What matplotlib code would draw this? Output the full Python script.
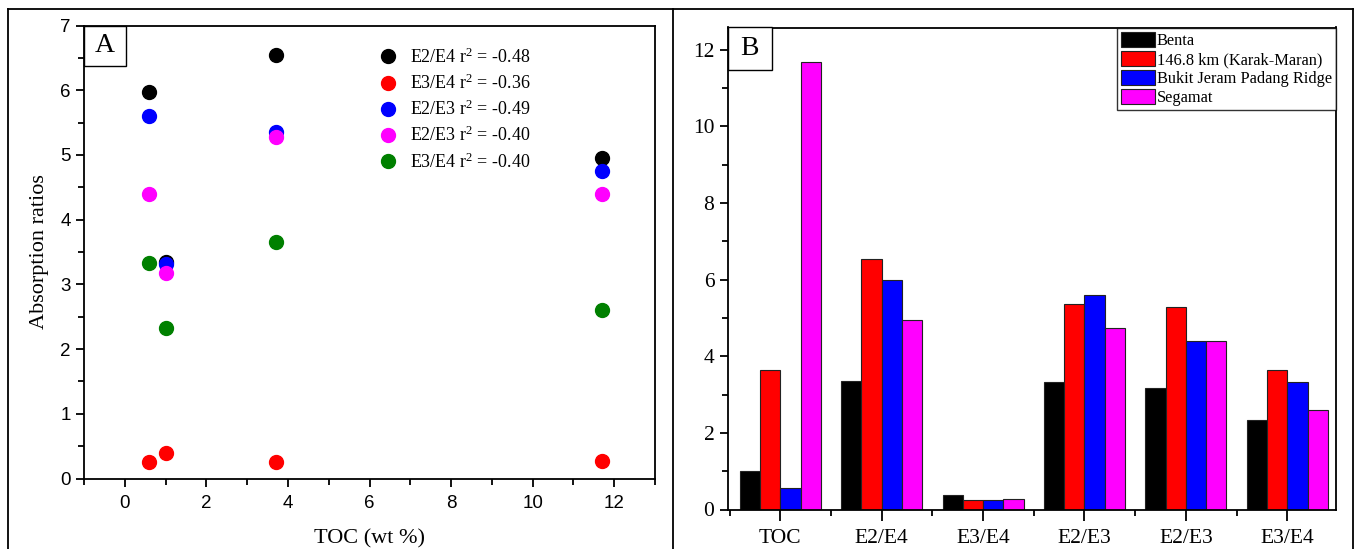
import matplotlib
matplotlib.use("Agg")
import matplotlib.pyplot as plt
import numpy as np
from matplotlib.lines import Line2D
from matplotlib.patches import Rectangle
from matplotlib.ticker import MultipleLocator, FixedLocator

# ---------------- data ----------------
locations = ["Benta", "146.8 km (Karak-Maran)", "Bukit Jeram Padang Ridge", "Segamat"]
categories = ["TOC", "E2/E4", "E3/E4", "E2/E3", "E2/E3", "E3/E4"]

benta = [1.00, 3.35, 0.39, 3.32, 3.18, 2.33]
karak = [3.65, 6.55, 0.26, 5.36, 5.28, 3.65]
bukit = [0.57, 5.98, 0.25, 5.60, 4.40, 3.33]
segamat = [11.67, 4.95, 0.27, 4.75, 4.40, 2.60]

bar_colors = ["#000000", "#ff0000", "#0000ff", "#ff00ff"]

# Panel A: TOC vs ratios (per location in same order as above)
toc_a = [1.00, 3.70, 0.60, 11.70]
e2e4_a = [3.35, 6.55, 5.98, 4.95]
e3e4_a = [0.39, 0.26, 0.25, 0.27]
e2e3_a = [3.32, 5.36, 5.60, 4.75]
e2e3b_a = [3.18, 5.28, 4.40, 4.40]
e3e4b_a = [2.33, 3.65, 3.33, 2.60]
series_a = [e2e4_a, e3e4_a, e2e3_a, e2e3b_a, e3e4b_a]
labels_a = [r"E2/E4 r$^{2}$ = -0.48", r"E3/E4 r$^{2}$ = -0.36", r"E2/E3 r$^{2}$ = -0.49",
            r"E2/E3 r$^{2}$ = -0.40", r"E3/E4 r$^{2}$ = -0.40"]
colors_a = ["#000000", "#ff0000", "#0000ff", "#ff00ff", "#008000"]

# ---------------- figure ----------------
W, H = 1357, 549
fig = plt.figure(figsize=(W / 100, H / 100), dpi=100)
plt.rcParams["mathtext.fontset"] = "custom"
plt.rcParams["mathtext.rm"] = "Liberation Serif"
plt.rcParams["mathtext.it"] = "Liberation Serif"

serif = "Liberation Serif"
sans = "Liberation Sans"

def fx(px):
    return px / W

def fy(py):
    return 1 - py / H

# outer frame lines
lw_frame = 1.3
for (x0, y0, x1, y1) in [(8, 9, 1353, 9), (8, 9, 8, 549), (673, 9, 673, 549), (1353, 9, 1353, 549)]:
    fig.add_artist(Line2D([fx(x0), fx(x1)], [fy(y0), fy(y1)], color="black", lw=lw_frame))


def panel_label(ax, txt, wpx, hpx):
    bb = ax.get_position()
    w = wpx / (bb.width * W)
    h = hpx / (bb.height * H)
    ax.add_patch(Rectangle((0, 1 - h), w, h, transform=ax.transAxes, fc="white",
                           ec="black", lw=1.0, zorder=5, clip_on=False))
    ax.text(w / 2, 1 - h / 2, txt, transform=ax.transAxes, ha="center", va="center",
            fontfamily=serif, fontsize=20, zorder=6)


# ---------------- Panel A ----------------
axA = fig.add_axes([fx(84), fy(478.5), fx(655) - fx(84), fy(25.5) - fy(478.5)])
for ys, lab, c in zip(series_a, labels_a, colors_a):
    axA.plot(toc_a, ys, linestyle="none", marker="o", ms=10, color=c, label=lab)
axA.set_xlim(-1, 13)
axA.set_ylim(0, 7)
axA.xaxis.set_major_locator(MultipleLocator(2))
axA.xaxis.set_minor_locator(MultipleLocator(1))
axA.yaxis.set_major_locator(MultipleLocator(1))
axA.yaxis.set_minor_locator(MultipleLocator(0.5))
axA.tick_params(which="both", direction="out", top=False, right=False, width=1.3)
axA.tick_params(which="major", length=6, labelsize=13.5)
axA.tick_params(axis="x", which="major", pad=6)
axA.tick_params(which="minor", length=4)
for t in axA.get_xticklabels() + axA.get_yticklabels():
    t.set_fontfamily(sans)
for s in axA.spines.values():
    s.set_linewidth(1.3)
axA.set_xlabel("TOC (wt %)", fontfamily=serif, fontsize=16, labelpad=12)
axA.set_ylabel("Absorption ratios", fontfamily=serif, fontsize=16, labelpad=8)
panel_label(axA, "A", 42, 40)
legA = axA.legend(loc="upper left", bbox_to_anchor=(0.488, 0.968), frameon=False,
                  prop={"family": serif, "size": 13}, handletextpad=0.2,
                  labelspacing=0.38, borderaxespad=0.0, numpoints=1)

# ---------------- Panel B ----------------
axB = fig.add_axes([fx(727.5), fy(509.5), fx(1336) - fx(727.5), fy(27.5) - fy(509.5)])
x = np.arange(len(categories))
bw = 0.2
for i, (vals, lab, c) in enumerate(zip([benta, karak, bukit, segamat], locations, bar_colors)):
    axB.bar(x + (i - 1.5) * bw, vals, width=bw, color=c, edgecolor="#222222", lw=0.8, label=lab)
axB.set_xlim(-0.52, 5.48)
axB.set_ylim(0, 12.58)
axB.set_xticks(x)
axB.set_xticklabels(categories)
axB.xaxis.set_minor_locator(FixedLocator(np.arange(-0.5, 6.0, 1.0)))
axB.yaxis.set_major_locator(MultipleLocator(2))
axB.yaxis.set_minor_locator(MultipleLocator(1))
axB.tick_params(which="both", direction="out", top=False, right=False, width=1.3)
axB.tick_params(which="major", length=6, labelsize=15.5)
axB.tick_params(axis="x", which="major", length=8, pad=6)
axB.tick_params(which="minor", length=4)
for t in axB.get_xticklabels() + axB.get_yticklabels():
    t.set_fontfamily(serif)
for s in axB.spines.values():
    s.set_linewidth(1.3)
panel_label(axB, "B", 44, 42)
legB = axB.legend(loc="upper right", frameon=True, fancybox=False, edgecolor="black",
                  prop={"family": serif, "size": 11.8}, handlelength=2.1, handleheight=1.05,
                  handletextpad=0.1, labelspacing=0.12, borderaxespad=0.0, borderpad=0.25)
legB.get_frame().set_linewidth(1.0)

fig.savefig("out.png", dpi=100)
